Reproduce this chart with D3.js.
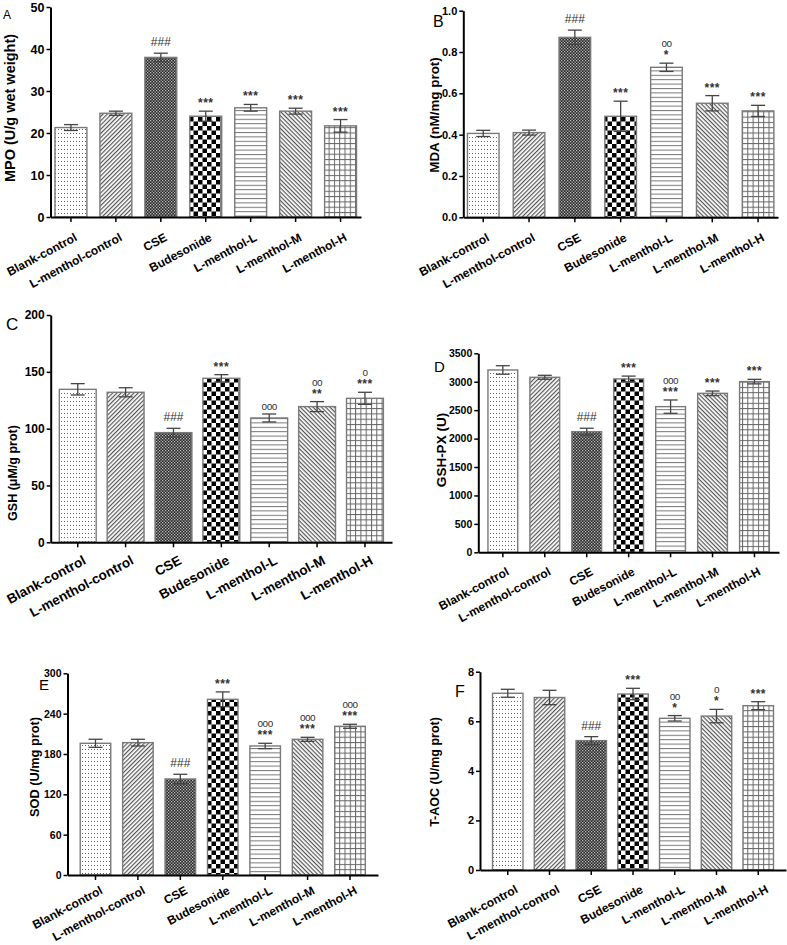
<!DOCTYPE html>
<html><head><meta charset="utf-8">
<script src="https://cdn.jsdelivr.net/npm/d3@7/dist/d3.min.js"></script>
<style>
body{margin:0;background:#fff}
svg{display:block}
text{font-family:"Liberation Sans",Arial,Helvetica,sans-serif}
</style>
</head><body>
<svg id="chart" width="787" height="945"></svg>
<script>
// ---------- data ----------
const categories = ["Blank-control","L-menthol-control","CSE","Budesonide","L-menthol-L","L-menthol-M","L-menthol-H"];

const mpoMeans = [21.3, 24.7, 38.0, 24.0, 26.0, 25.2, 21.7];
const mpoErrs  = [0.7, 0.5, 1.0, 1.2, 0.8, 0.7, 1.5];
const mpoMarks = ["", "", "###", "***", "***", "***", "***"];
const mpoTicks = [0, 10, 20, 30, 40, 50];

const mdaMeans = [0.406, 0.41, 0.871, 0.489, 0.726, 0.552, 0.515];
const mdaErrs  = [0.015, 0.012, 0.035, 0.073, 0.02, 0.037, 0.027];
const mdaMarks = ["", "", "###", "***", "oo|*", "***", "***"];
const mdaTicks = [0, 0.2, 0.4, 0.6, 0.8, 1.0];

const gshMeans = [134.6, 132, 96.5, 144.3, 109.4, 119.4, 126.7];
const gshErrs  = [5, 4, 3.8, 3.2, 3.5, 4.4, 5.3];
const gshMarks = ["", "", "###", "***", "ooo", "oo|**", "o|***"];
const gshTicks = [0, 50, 100, 150, 200];

const gshpxMeans = [3207, 3078, 2122, 3049, 2562, 2796, 3002];
const gshpxErrs  = [75, 35, 60, 50, 117, 40, 40];
const gshpxMarks = ["", "", "###", "***", "ooo|***", "***", "***"];
const gshpxTicks = [0, 500, 1000, 1500, 2000, 2500, 3000, 3500];

const sodMeans = [195.9, 196.9, 142.8, 261.3, 191.9, 201.8, 221.2];
const sodErrs  = [6, 5, 7, 11, 4, 3, 3];
const sodMarks = ["", "", "###", "***", "ooo|***", "ooo|***", "ooo|***"];
const sodTicks = [0, 60, 120, 180, 240, 300];

const taocMeans = [7.13, 6.96, 5.22, 7.10, 6.12, 6.21, 6.63];
const taocErrs  = [0.16, 0.29, 0.16, 0.23, 0.11, 0.27, 0.16];
const taocMarks = ["", "", "###", "***", "oo|*", "o|*", "***"];
const taocTicks = [0, 2, 4, 6, 8];

const patternIds = ["pDots","pDiagUp","pFineCheck","pBigCheck","pHLines","pDiagDown","pGrid"];

// ---------- layout ----------
const panels = [
  {letter:"A", title:"MPO (U/g wet weight)", means:mpoMeans, errs:mpoErrs, marks:mpoMarks, ticks:mpoTicks, fmt:d3.format("d"),
   left:50.5, right:361, y0:217, yTop:7, pi:0.29, po:0.1, tf:12.5, titleX:14.5, titleY:108, titleF:14.5,
   lx:3, ly:19, ls:12, xf:12, lbx:7, lby:23},
  {letter:"B", title:"MDA (nM/mg prot)", means:mdaMeans, errs:mdaErrs, marks:mdaMarks, ticks:mdaTicks, fmt:d3.format(".1f"),
   left:463.3, right:778, y0:217.3, yTop:10.7, pi:0.31, po:0.09, tf:11, titleX:438.5, titleY:115, titleF:13.4,
   lx:433, ly:27, ls:16, xf:12, lbx:7, lby:23},
  {letter:"C", title:"GSH (\u03bcM/g prot)", means:gshMeans, errs:gshErrs, marks:gshMarks, ticks:gshTicks, fmt:d3.format("d"),
   left:50.7, right:392, y0:542.3, yTop:315, pi:0.23, po:0.18, tf:12, titleX:17, titleY:473, titleF:12.5,
   lx:6, ly:330, ls:17, xf:13.5, lbx:9, lby:21},
  {letter:"D", title:"GSH-PX (U)", means:gshpxMeans, errs:gshpxErrs, marks:gshpxMarks, ticks:gshpxTicks, fmt:d3.format("d"),
   left:478.3, right:779, y0:552.3, yTop:353.3, pi:0.29, po:0.23, tf:10.5, titleX:446, titleY:450, titleF:13.5,
   lx:434, ly:372, ls:15, xf:12, lbx:7, lby:22},
  {letter:"E", title:"SOD (U/mg prot)", means:sodMeans, errs:sodErrs, marks:sodMarks, ticks:sodTicks, fmt:d3.format("d"),
   left:67.5, right:378, y0:875, yTop:673.3, pi:0.28, po:0.3, tf:10.5, titleX:39, titleY:767, titleF:12.8,
   lx:39, ly:690, ls:15, xf:12, lbx:8, lby:18},
  {letter:"F", title:"T-AOC (U/mg prot)", means:taocMeans, errs:taocErrs, marks:taocMarks, ticks:taocTicks, fmt:d3.format("d"),
   left:480, right:786, y0:870, yTop:671.7, pi:0.27, po:0.3, tf:11, titleX:439, titleY:772, titleF:12.5,
   lx:455, ly:697, ls:16, xf:12, lbx:11, lby:22}
];

const svg = d3.select("#chart");
svg.append("rect").attr("width",787).attr("height",945).attr("fill","#fff");

// ---------- patterns ----------
const defs = svg.append("defs");
function pat(id, w, h, tr){ const p = defs.append("pattern").attr("id",id).attr("patternUnits","userSpaceOnUse").attr("width",w).attr("height",h); if(tr) p.attr("patternTransform",tr); return p; }
let p;
p = pat("pDots",3,4); p.append("rect").attr("width",3).attr("height",4).attr("fill","#fff"); p.append("rect").attr("x",1).attr("y",1).attr("width",1).attr("height",1).attr("fill","#666");
p = pat("pDiagUp",3,3,"rotate(-45)"); p.append("rect").attr("width",3).attr("height",3).attr("fill","#fff"); p.append("rect").attr("width",3).attr("height",1.2).attr("fill","#555");
p = pat("pDiagDown",3,3,"rotate(45)"); p.append("rect").attr("width",3).attr("height",3).attr("fill","#fff"); p.append("rect").attr("width",3).attr("height",1.2).attr("fill","#555");
p = pat("pFineCheck",3,3); p.append("rect").attr("width",3).attr("height",3).attr("fill","#2a2a2a"); p.append("rect").attr("x",0).attr("y",0).attr("width",1.3).attr("height",1.3).attr("fill","#bbb"); p.append("rect").attr("x",1.5).attr("y",1.5).attr("width",1.3).attr("height",1.3).attr("fill","#bbb");
p = pat("pBigCheck",9,9); p.append("rect").attr("width",9).attr("height",9).attr("fill","#fff"); p.append("rect").attr("width",4.5).attr("height",4.5).attr("fill","#000"); p.append("rect").attr("x",4.5).attr("y",4.5).attr("width",4.5).attr("height",4.5).attr("fill","#000");
p = pat("pHLines",4,4.4); p.append("rect").attr("width",4).attr("height",4.4).attr("fill","#fff"); p.append("rect").attr("width",4).attr("height",1).attr("fill","#777");
p = pat("pGrid",5.3,5.3); p.append("rect").attr("width",5.3).attr("height",5.3).attr("fill","#fff"); p.append("rect").attr("width",5.3).attr("height",1).attr("fill","#666"); p.append("rect").attr("width",1).attr("height",5.3).attr("fill","#666");

// ---------- panels ----------
panels.forEach(cfg => {
  const g = svg.append("g");
  const yMax = cfg.ticks[cfg.ticks.length-1];
  const x = d3.scaleBand().domain(categories).range([cfg.left, cfg.right]).paddingInner(cfg.pi).paddingOuter(cfg.po);
  const y = d3.scaleLinear().domain([0, yMax]).range([cfg.y0, cfg.yTop]);
  const rows = categories.map((c,i)=>({c, m:cfg.means[i], e:cfg.errs[i], mark:cfg.marks[i], pat:patternIds[i]}));

  // bars
  g.selectAll("rect.bar").data(rows).enter().append("rect")
    .attr("x", d=>x(d.c)).attr("width", x.bandwidth())
    .attr("y", d=>y(d.m)).attr("height", d=>cfg.y0 - y(d.m))
    .attr("fill", d=>`url(#${d.pat})`).attr("stroke","#7a7a7a").attr("stroke-width",1.4);

  // error bars + significance marks
  const cap = 7;
  rows.forEach(d=>{
    const cx = x(d.c) + x.bandwidth()/2;
    const eg = g.append("g").attr("stroke","#444").attr("stroke-width",1.3);
    eg.append("line").attr("x1",cx).attr("x2",cx).attr("y1",y(d.m-d.e)).attr("y2",y(d.m+d.e));
    eg.append("line").attr("x1",cx-cap).attr("x2",cx+cap).attr("y1",y(d.m+d.e)).attr("y2",y(d.m+d.e));
    eg.append("line").attr("x1",cx-cap).attr("x2",cx+cap).attr("y1",y(d.m-d.e)).attr("y2",y(d.m-d.e));
    if(d.mark){
      const lines = d.mark.split("|");
      const last = lines[lines.length-1];
      const base = y(d.m+d.e) - (last[0]==="#" ? 7 : 4);
      const t = g.append("text").attr("text-anchor","middle").attr("fill","#333");
      lines.forEach((ln,k)=>{
        const isO = ln[0]==="o";
        t.append("tspan").attr("x",cx).attr("y", base - (lines.length-1-k)*12)
          .attr("font-size", isO?10:12)
          .attr("font-weight", ln[0]==="*"?"bold":"normal")
          .attr("letter-spacing", isO?"-0.5px":(ln[0]==="*"?"0.5px":"0px"))
          .text(ln);
      });
    }
  });

  // y axis
  const ya = g.append("g").attr("transform",`translate(${cfg.left},0)`)
    .call(d3.axisLeft(y).tickValues(cfg.ticks).tickFormat(cfg.fmt).tickSize(4).tickSizeOuter(0).tickPadding(2));
  ya.select(".domain").attr("stroke","#000").attr("stroke-width",2);
  ya.selectAll(".tick line").attr("stroke","#000").attr("stroke-width",1.5);
  ya.selectAll(".tick text").attr("font-size",cfg.tf).attr("font-weight","bold").attr("fill","#000")
    .style("font-family",'"Liberation Sans",Arial,sans-serif');

  // x axis
  const xa = g.append("g").attr("transform",`translate(0,${cfg.y0})`)
    .call(d3.axisBottom(x).tickSize(5).tickSizeOuter(0).tickFormat(""));
  xa.select(".domain").attr("stroke","#000").attr("stroke-width",2);
  xa.selectAll(".tick line").attr("stroke","#000").attr("stroke-width",1.5);
  xa.selectAll(".tick text").remove();
  categories.forEach(c=>{
    const cx = x(c) + x.bandwidth()/2;
    g.append("text").attr("transform",`translate(${cx+cfg.lbx},${cfg.y0+cfg.lby}) rotate(-28)`)
      .attr("text-anchor","end").attr("font-size",cfg.xf).attr("font-weight","bold").attr("fill","#000").text(c);
  });

  // y title
  g.append("text").attr("transform",`translate(${cfg.titleX},${cfg.titleY}) rotate(-90)`)
    .attr("text-anchor","middle").attr("font-size",cfg.titleF).attr("font-weight","bold").attr("fill","#000").text(cfg.title);

  // panel letter
  g.append("text").attr("x",cfg.lx).attr("y",cfg.ly).attr("font-size",cfg.ls).attr("fill","#000").text(cfg.letter);
});
</script>
</body></html>
